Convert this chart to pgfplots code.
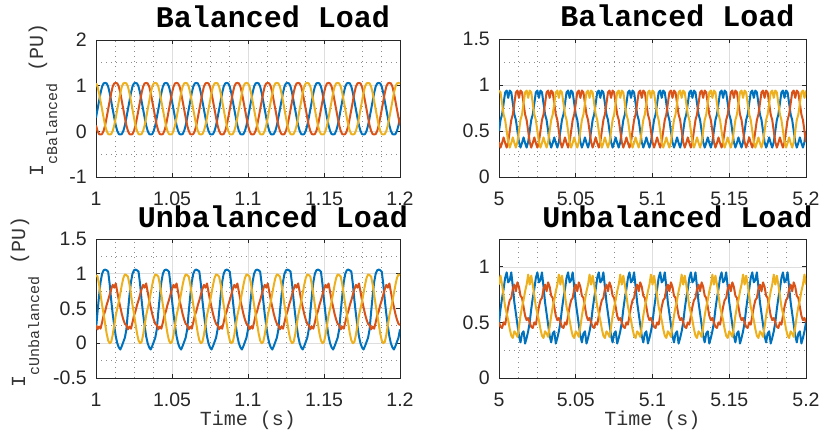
\documentclass[border=0pt]{standalone}
\usepackage{fontspec}
\setmainfont{Liberation Sans}
\setmonofont{Liberation Mono}
\usepackage{pgfplots}
\usepackage{pgfplotstable}
\pgfplotsset{compat=1.18}
\definecolor{mblue}{RGB}{0,114,189}
\definecolor{mred}{RGB}{217,83,25}
\definecolor{myellow}{RGB}{237,177,32}

% balanced load, t = 1 ... 1.2
\pgfplotstableread{
t b r y
1.000 0.30 0.13 1.05
1.001 0.48 0.01 0.98
1.002 0.66 -0.06 0.84
1.003 0.84 -0.07 0.66
1.004 0.98 -0.06 0.48
1.005 1.05 0.01 0.30
1.006 1.06 0.13 0.13
1.007 1.05 0.30 0.01
1.008 0.98 0.48 -0.06
1.009 0.84 0.66 -0.07
1.010 0.66 0.84 -0.06
1.011 0.48 0.98 0.01
1.012 0.30 1.05 0.13
1.013 0.13 1.06 0.30
1.014 0.01 1.05 0.48
1.015 -0.06 0.98 0.66
1.016 -0.07 0.84 0.84
1.017 -0.06 0.66 0.98
1.018 0.01 0.48 1.05
1.019 0.13 0.30 1.06
1.020 0.30 0.13 1.05
1.021 0.48 0.01 0.98
1.022 0.66 -0.06 0.84
1.023 0.84 -0.07 0.66
1.024 0.98 -0.06 0.48
1.025 1.05 0.01 0.30
1.026 1.06 0.13 0.13
1.027 1.05 0.30 0.01
1.028 0.98 0.48 -0.06
1.029 0.84 0.66 -0.07
1.030 0.66 0.84 -0.06
1.031 0.48 0.98 0.01
1.032 0.30 1.05 0.13
1.033 0.13 1.06 0.30
1.034 0.01 1.05 0.48
1.035 -0.06 0.98 0.66
1.036 -0.07 0.84 0.84
1.037 -0.06 0.66 0.98
1.038 0.01 0.48 1.05
1.039 0.13 0.30 1.06
1.040 0.30 0.13 1.05
1.041 0.48 0.01 0.98
1.042 0.66 -0.06 0.84
1.043 0.84 -0.07 0.66
1.044 0.98 -0.06 0.48
1.045 1.05 0.01 0.30
1.046 1.06 0.13 0.13
1.047 1.05 0.30 0.01
1.048 0.98 0.48 -0.06
1.049 0.84 0.66 -0.07
1.050 0.66 0.84 -0.06
1.051 0.48 0.98 0.01
1.052 0.30 1.05 0.13
1.053 0.13 1.06 0.30
1.054 0.01 1.05 0.48
1.055 -0.06 0.98 0.66
1.056 -0.07 0.84 0.84
1.057 -0.06 0.66 0.98
1.058 0.01 0.48 1.05
1.059 0.13 0.30 1.06
1.060 0.30 0.13 1.05
1.061 0.48 0.01 0.98
1.062 0.66 -0.06 0.84
1.063 0.84 -0.07 0.66
1.064 0.98 -0.06 0.48
1.065 1.05 0.01 0.30
1.066 1.06 0.13 0.13
1.067 1.05 0.30 0.01
1.068 0.98 0.48 -0.06
1.069 0.84 0.66 -0.07
1.070 0.66 0.84 -0.06
1.071 0.48 0.98 0.01
1.072 0.30 1.05 0.13
1.073 0.13 1.06 0.30
1.074 0.01 1.05 0.48
1.075 -0.06 0.98 0.66
1.076 -0.07 0.84 0.84
1.077 -0.06 0.66 0.98
1.078 0.01 0.48 1.05
1.079 0.13 0.30 1.06
1.080 0.30 0.13 1.05
1.081 0.48 0.01 0.98
1.082 0.66 -0.06 0.84
1.083 0.84 -0.07 0.66
1.084 0.98 -0.06 0.48
1.085 1.05 0.01 0.30
1.086 1.06 0.13 0.13
1.087 1.05 0.30 0.01
1.088 0.98 0.48 -0.06
1.089 0.84 0.66 -0.07
1.090 0.66 0.84 -0.06
1.091 0.48 0.98 0.01
1.092 0.30 1.05 0.13
1.093 0.13 1.06 0.30
1.094 0.01 1.05 0.48
1.095 -0.06 0.98 0.66
1.096 -0.07 0.84 0.84
1.097 -0.06 0.66 0.98
1.098 0.01 0.48 1.05
1.099 0.13 0.30 1.06
1.100 0.30 0.13 1.05
1.101 0.48 0.01 0.98
1.102 0.66 -0.06 0.84
1.103 0.84 -0.07 0.66
1.104 0.98 -0.06 0.48
1.105 1.05 0.01 0.30
1.106 1.06 0.13 0.13
1.107 1.05 0.30 0.01
1.108 0.98 0.48 -0.06
1.109 0.84 0.66 -0.07
1.110 0.66 0.84 -0.06
1.111 0.48 0.98 0.01
1.112 0.30 1.05 0.13
1.113 0.13 1.06 0.30
1.114 0.01 1.05 0.48
1.115 -0.06 0.98 0.66
1.116 -0.07 0.84 0.84
1.117 -0.06 0.66 0.98
1.118 0.01 0.48 1.05
1.119 0.13 0.30 1.06
1.120 0.30 0.13 1.05
1.121 0.48 0.01 0.98
1.122 0.66 -0.06 0.84
1.123 0.84 -0.07 0.66
1.124 0.98 -0.06 0.48
1.125 1.05 0.01 0.30
1.126 1.06 0.13 0.13
1.127 1.05 0.30 0.01
1.128 0.98 0.48 -0.06
1.129 0.84 0.66 -0.07
1.130 0.66 0.84 -0.06
1.131 0.48 0.98 0.01
1.132 0.30 1.05 0.13
1.133 0.13 1.06 0.30
1.134 0.01 1.05 0.48
1.135 -0.06 0.98 0.66
1.136 -0.07 0.84 0.84
1.137 -0.06 0.66 0.98
1.138 0.01 0.48 1.05
1.139 0.13 0.30 1.06
1.140 0.30 0.13 1.05
1.141 0.48 0.01 0.98
1.142 0.66 -0.06 0.84
1.143 0.84 -0.07 0.66
1.144 0.98 -0.06 0.48
1.145 1.05 0.01 0.30
1.146 1.06 0.13 0.13
1.147 1.05 0.30 0.01
1.148 0.98 0.48 -0.06
1.149 0.84 0.66 -0.07
1.150 0.66 0.84 -0.06
1.151 0.48 0.98 0.01
1.152 0.30 1.05 0.13
1.153 0.13 1.06 0.30
1.154 0.01 1.05 0.48
1.155 -0.06 0.98 0.66
1.156 -0.07 0.84 0.84
1.157 -0.06 0.66 0.98
1.158 0.01 0.48 1.05
1.159 0.13 0.30 1.06
1.160 0.30 0.13 1.05
1.161 0.48 0.01 0.98
1.162 0.66 -0.06 0.84
1.163 0.84 -0.07 0.66
1.164 0.98 -0.06 0.48
1.165 1.05 0.01 0.30
1.166 1.06 0.13 0.13
1.167 1.05 0.30 0.01
1.168 0.98 0.48 -0.06
1.169 0.84 0.66 -0.07
1.170 0.66 0.84 -0.06
1.171 0.48 0.98 0.01
1.172 0.30 1.05 0.13
1.173 0.13 1.06 0.30
1.174 0.01 1.05 0.48
1.175 -0.06 0.98 0.66
1.176 -0.07 0.84 0.84
1.177 -0.06 0.66 0.98
1.178 0.01 0.48 1.05
1.179 0.13 0.30 1.06
1.180 0.30 0.13 1.05
1.181 0.48 0.01 0.98
1.182 0.66 -0.06 0.84
1.183 0.84 -0.07 0.66
1.184 0.98 -0.06 0.48
1.185 1.05 0.01 0.30
1.186 1.06 0.13 0.13
1.187 1.05 0.30 0.01
1.188 0.98 0.48 -0.06
1.189 0.84 0.66 -0.07
1.190 0.66 0.84 -0.06
1.191 0.48 0.98 0.01
1.192 0.30 1.05 0.13
1.193 0.13 1.06 0.30
1.194 0.01 1.05 0.48
1.195 -0.06 0.98 0.66
1.196 -0.07 0.84 0.84
1.197 -0.06 0.66 0.98
1.198 0.01 0.48 1.05
1.199 0.13 0.30 1.06
1.200 0.30 0.13 1.05
}\balA

% balanced load, t = 5 ... 5.2
\pgfplotstableread{
t b r y
5.000 0.50 0.38 0.94
5.001 0.62 0.32 0.92
5.002 0.68 0.37 0.80
5.003 0.80 0.43 0.68
5.004 0.92 0.37 0.62
5.005 0.94 0.32 0.50
5.006 0.86 0.38 0.38
5.007 0.94 0.50 0.32
5.008 0.92 0.62 0.37
5.009 0.80 0.68 0.43
5.010 0.68 0.80 0.37
5.011 0.62 0.92 0.32
5.012 0.50 0.94 0.38
5.013 0.38 0.86 0.50
5.014 0.32 0.94 0.62
5.015 0.37 0.92 0.68
5.016 0.43 0.80 0.80
5.017 0.37 0.68 0.92
5.018 0.32 0.62 0.94
5.019 0.38 0.50 0.86
5.020 0.50 0.38 0.94
5.021 0.62 0.32 0.92
5.022 0.68 0.37 0.80
5.023 0.80 0.43 0.68
5.024 0.92 0.37 0.62
5.025 0.94 0.32 0.50
5.026 0.86 0.38 0.38
5.027 0.94 0.50 0.32
5.028 0.92 0.62 0.37
5.029 0.80 0.68 0.43
5.030 0.68 0.80 0.37
5.031 0.62 0.92 0.32
5.032 0.50 0.94 0.38
5.033 0.38 0.86 0.50
5.034 0.32 0.94 0.62
5.035 0.37 0.92 0.68
5.036 0.43 0.80 0.80
5.037 0.37 0.68 0.92
5.038 0.32 0.62 0.94
5.039 0.38 0.50 0.86
5.040 0.50 0.38 0.94
5.041 0.62 0.32 0.92
5.042 0.68 0.37 0.80
5.043 0.80 0.43 0.68
5.044 0.92 0.37 0.62
5.045 0.94 0.32 0.50
5.046 0.86 0.38 0.38
5.047 0.94 0.50 0.32
5.048 0.92 0.62 0.37
5.049 0.80 0.68 0.43
5.050 0.68 0.80 0.37
5.051 0.62 0.92 0.32
5.052 0.50 0.94 0.38
5.053 0.38 0.86 0.50
5.054 0.32 0.94 0.62
5.055 0.37 0.92 0.68
5.056 0.43 0.80 0.80
5.057 0.37 0.68 0.92
5.058 0.32 0.62 0.94
5.059 0.38 0.50 0.86
5.060 0.50 0.38 0.94
5.061 0.62 0.32 0.92
5.062 0.68 0.37 0.80
5.063 0.80 0.43 0.68
5.064 0.92 0.37 0.62
5.065 0.94 0.32 0.50
5.066 0.86 0.38 0.38
5.067 0.94 0.50 0.32
5.068 0.92 0.62 0.37
5.069 0.80 0.68 0.43
5.070 0.68 0.80 0.37
5.071 0.62 0.92 0.32
5.072 0.50 0.94 0.38
5.073 0.38 0.86 0.50
5.074 0.32 0.94 0.62
5.075 0.37 0.92 0.68
5.076 0.43 0.80 0.80
5.077 0.37 0.68 0.92
5.078 0.32 0.62 0.94
5.079 0.38 0.50 0.86
5.080 0.50 0.38 0.94
5.081 0.62 0.32 0.92
5.082 0.68 0.37 0.80
5.083 0.80 0.43 0.68
5.084 0.92 0.37 0.62
5.085 0.94 0.32 0.50
5.086 0.86 0.38 0.38
5.087 0.94 0.50 0.32
5.088 0.92 0.62 0.37
5.089 0.80 0.68 0.43
5.090 0.68 0.80 0.37
5.091 0.62 0.92 0.32
5.092 0.50 0.94 0.38
5.093 0.38 0.86 0.50
5.094 0.32 0.94 0.62
5.095 0.37 0.92 0.68
5.096 0.43 0.80 0.80
5.097 0.37 0.68 0.92
5.098 0.32 0.62 0.94
5.099 0.38 0.50 0.86
5.100 0.50 0.38 0.94
5.101 0.62 0.32 0.92
5.102 0.68 0.37 0.80
5.103 0.80 0.43 0.68
5.104 0.92 0.37 0.62
5.105 0.94 0.32 0.50
5.106 0.86 0.38 0.38
5.107 0.94 0.50 0.32
5.108 0.92 0.62 0.37
5.109 0.80 0.68 0.43
5.110 0.68 0.80 0.37
5.111 0.62 0.92 0.32
5.112 0.50 0.94 0.38
5.113 0.38 0.86 0.50
5.114 0.32 0.94 0.62
5.115 0.37 0.92 0.68
5.116 0.43 0.80 0.80
5.117 0.37 0.68 0.92
5.118 0.32 0.62 0.94
5.119 0.38 0.50 0.86
5.120 0.50 0.38 0.94
5.121 0.62 0.32 0.92
5.122 0.68 0.37 0.80
5.123 0.80 0.43 0.68
5.124 0.92 0.37 0.62
5.125 0.94 0.32 0.50
5.126 0.86 0.38 0.38
5.127 0.94 0.50 0.32
5.128 0.92 0.62 0.37
5.129 0.80 0.68 0.43
5.130 0.68 0.80 0.37
5.131 0.62 0.92 0.32
5.132 0.50 0.94 0.38
5.133 0.38 0.86 0.50
5.134 0.32 0.94 0.62
5.135 0.37 0.92 0.68
5.136 0.43 0.80 0.80
5.137 0.37 0.68 0.92
5.138 0.32 0.62 0.94
5.139 0.38 0.50 0.86
5.140 0.50 0.38 0.94
5.141 0.62 0.32 0.92
5.142 0.68 0.37 0.80
5.143 0.80 0.43 0.68
5.144 0.92 0.37 0.62
5.145 0.94 0.32 0.50
5.146 0.86 0.38 0.38
5.147 0.94 0.50 0.32
5.148 0.92 0.62 0.37
5.149 0.80 0.68 0.43
5.150 0.68 0.80 0.37
5.151 0.62 0.92 0.32
5.152 0.50 0.94 0.38
5.153 0.38 0.86 0.50
5.154 0.32 0.94 0.62
5.155 0.37 0.92 0.68
5.156 0.43 0.80 0.80
5.157 0.37 0.68 0.92
5.158 0.32 0.62 0.94
5.159 0.38 0.50 0.86
5.160 0.50 0.38 0.94
5.161 0.62 0.32 0.92
5.162 0.68 0.37 0.80
5.163 0.80 0.43 0.68
5.164 0.92 0.37 0.62
5.165 0.94 0.32 0.50
5.166 0.86 0.38 0.38
5.167 0.94 0.50 0.32
5.168 0.92 0.62 0.37
5.169 0.80 0.68 0.43
5.170 0.68 0.80 0.37
5.171 0.62 0.92 0.32
5.172 0.50 0.94 0.38
5.173 0.38 0.86 0.50
5.174 0.32 0.94 0.62
5.175 0.37 0.92 0.68
5.176 0.43 0.80 0.80
5.177 0.37 0.68 0.92
5.178 0.32 0.62 0.94
5.179 0.38 0.50 0.86
5.180 0.50 0.38 0.94
5.181 0.62 0.32 0.92
5.182 0.68 0.37 0.80
5.183 0.80 0.43 0.68
5.184 0.92 0.37 0.62
5.185 0.94 0.32 0.50
5.186 0.86 0.38 0.38
5.187 0.94 0.50 0.32
5.188 0.92 0.62 0.37
5.189 0.80 0.68 0.43
5.190 0.68 0.80 0.37
5.191 0.62 0.92 0.32
5.192 0.50 0.94 0.38
5.193 0.38 0.86 0.50
5.194 0.32 0.94 0.62
5.195 0.37 0.92 0.68
5.196 0.43 0.80 0.80
5.197 0.37 0.68 0.92
5.198 0.32 0.62 0.94
5.199 0.38 0.50 0.86
5.200 0.50 0.38 0.94
}\balB

% unbalanced load, t = 1 ... 1.2
\pgfplotstableread{
t b r y
1.000 0.20 0.26 0.98
1.001 0.45 0.20 0.96
1.002 0.68 0.24 0.85
1.003 0.88 0.21 0.70
1.004 1.00 0.30 0.55
1.005 1.05 0.40 0.42
1.006 1.06 0.46 0.28
1.007 1.05 0.55 0.14
1.008 1.03 0.62 0.04
1.009 0.85 0.70 0.00
1.010 0.62 0.78 0.02
1.011 0.42 0.84 0.12
1.012 0.25 0.80 0.26
1.013 0.10 0.86 0.40
1.014 0.00 0.74 0.50
1.015 -0.06 0.62 0.60
1.016 -0.09 0.52 0.72
1.017 -0.04 0.42 0.84
1.018 0.02 0.34 0.94
1.019 0.08 0.28 0.99
1.020 0.20 0.26 0.98
1.021 0.45 0.20 0.96
1.022 0.68 0.24 0.85
1.023 0.88 0.21 0.70
1.024 1.00 0.30 0.55
1.025 1.05 0.40 0.42
1.026 1.06 0.46 0.28
1.027 1.05 0.55 0.14
1.028 1.03 0.62 0.04
1.029 0.85 0.70 0.00
1.030 0.62 0.78 0.02
1.031 0.42 0.84 0.12
1.032 0.25 0.80 0.26
1.033 0.10 0.86 0.40
1.034 0.00 0.74 0.50
1.035 -0.06 0.62 0.60
1.036 -0.09 0.52 0.72
1.037 -0.04 0.42 0.84
1.038 0.02 0.34 0.94
1.039 0.08 0.28 0.99
1.040 0.20 0.26 0.98
1.041 0.45 0.20 0.96
1.042 0.68 0.24 0.85
1.043 0.88 0.21 0.70
1.044 1.00 0.30 0.55
1.045 1.05 0.40 0.42
1.046 1.06 0.46 0.28
1.047 1.05 0.55 0.14
1.048 1.03 0.62 0.04
1.049 0.85 0.70 0.00
1.050 0.62 0.78 0.02
1.051 0.42 0.84 0.12
1.052 0.25 0.80 0.26
1.053 0.10 0.86 0.40
1.054 0.00 0.74 0.50
1.055 -0.06 0.62 0.60
1.056 -0.09 0.52 0.72
1.057 -0.04 0.42 0.84
1.058 0.02 0.34 0.94
1.059 0.08 0.28 0.99
1.060 0.20 0.26 0.98
1.061 0.45 0.20 0.96
1.062 0.68 0.24 0.85
1.063 0.88 0.21 0.70
1.064 1.00 0.30 0.55
1.065 1.05 0.40 0.42
1.066 1.06 0.46 0.28
1.067 1.05 0.55 0.14
1.068 1.03 0.62 0.04
1.069 0.85 0.70 0.00
1.070 0.62 0.78 0.02
1.071 0.42 0.84 0.12
1.072 0.25 0.80 0.26
1.073 0.10 0.86 0.40
1.074 0.00 0.74 0.50
1.075 -0.06 0.62 0.60
1.076 -0.09 0.52 0.72
1.077 -0.04 0.42 0.84
1.078 0.02 0.34 0.94
1.079 0.08 0.28 0.99
1.080 0.20 0.26 0.98
1.081 0.45 0.20 0.96
1.082 0.68 0.24 0.85
1.083 0.88 0.21 0.70
1.084 1.00 0.30 0.55
1.085 1.05 0.40 0.42
1.086 1.06 0.46 0.28
1.087 1.05 0.55 0.14
1.088 1.03 0.62 0.04
1.089 0.85 0.70 0.00
1.090 0.62 0.78 0.02
1.091 0.42 0.84 0.12
1.092 0.25 0.80 0.26
1.093 0.10 0.86 0.40
1.094 0.00 0.74 0.50
1.095 -0.06 0.62 0.60
1.096 -0.09 0.52 0.72
1.097 -0.04 0.42 0.84
1.098 0.02 0.34 0.94
1.099 0.08 0.28 0.99
1.100 0.20 0.26 0.98
1.101 0.45 0.20 0.96
1.102 0.68 0.24 0.85
1.103 0.88 0.21 0.70
1.104 1.00 0.30 0.55
1.105 1.05 0.40 0.42
1.106 1.06 0.46 0.28
1.107 1.05 0.55 0.14
1.108 1.03 0.62 0.04
1.109 0.85 0.70 0.00
1.110 0.62 0.78 0.02
1.111 0.42 0.84 0.12
1.112 0.25 0.80 0.26
1.113 0.10 0.86 0.40
1.114 0.00 0.74 0.50
1.115 -0.06 0.62 0.60
1.116 -0.09 0.52 0.72
1.117 -0.04 0.42 0.84
1.118 0.02 0.34 0.94
1.119 0.08 0.28 0.99
1.120 0.20 0.26 0.98
1.121 0.45 0.20 0.96
1.122 0.68 0.24 0.85
1.123 0.88 0.21 0.70
1.124 1.00 0.30 0.55
1.125 1.05 0.40 0.42
1.126 1.06 0.46 0.28
1.127 1.05 0.55 0.14
1.128 1.03 0.62 0.04
1.129 0.85 0.70 0.00
1.130 0.62 0.78 0.02
1.131 0.42 0.84 0.12
1.132 0.25 0.80 0.26
1.133 0.10 0.86 0.40
1.134 0.00 0.74 0.50
1.135 -0.06 0.62 0.60
1.136 -0.09 0.52 0.72
1.137 -0.04 0.42 0.84
1.138 0.02 0.34 0.94
1.139 0.08 0.28 0.99
1.140 0.20 0.26 0.98
1.141 0.45 0.20 0.96
1.142 0.68 0.24 0.85
1.143 0.88 0.21 0.70
1.144 1.00 0.30 0.55
1.145 1.05 0.40 0.42
1.146 1.06 0.46 0.28
1.147 1.05 0.55 0.14
1.148 1.03 0.62 0.04
1.149 0.85 0.70 0.00
1.150 0.62 0.78 0.02
1.151 0.42 0.84 0.12
1.152 0.25 0.80 0.26
1.153 0.10 0.86 0.40
1.154 0.00 0.74 0.50
1.155 -0.06 0.62 0.60
1.156 -0.09 0.52 0.72
1.157 -0.04 0.42 0.84
1.158 0.02 0.34 0.94
1.159 0.08 0.28 0.99
1.160 0.20 0.26 0.98
1.161 0.45 0.20 0.96
1.162 0.68 0.24 0.85
1.163 0.88 0.21 0.70
1.164 1.00 0.30 0.55
1.165 1.05 0.40 0.42
1.166 1.06 0.46 0.28
1.167 1.05 0.55 0.14
1.168 1.03 0.62 0.04
1.169 0.85 0.70 0.00
1.170 0.62 0.78 0.02
1.171 0.42 0.84 0.12
1.172 0.25 0.80 0.26
1.173 0.10 0.86 0.40
1.174 0.00 0.74 0.50
1.175 -0.06 0.62 0.60
1.176 -0.09 0.52 0.72
1.177 -0.04 0.42 0.84
1.178 0.02 0.34 0.94
1.179 0.08 0.28 0.99
1.180 0.20 0.26 0.98
1.181 0.45 0.20 0.96
1.182 0.68 0.24 0.85
1.183 0.88 0.21 0.70
1.184 1.00 0.30 0.55
1.185 1.05 0.40 0.42
1.186 1.06 0.46 0.28
1.187 1.05 0.55 0.14
1.188 1.03 0.62 0.04
1.189 0.85 0.70 0.00
1.190 0.62 0.78 0.02
1.191 0.42 0.84 0.12
1.192 0.25 0.80 0.26
1.193 0.10 0.86 0.40
1.194 0.00 0.74 0.50
1.195 -0.06 0.62 0.60
1.196 -0.09 0.52 0.72
1.197 -0.04 0.42 0.84
1.198 0.02 0.34 0.94
1.199 0.08 0.28 0.99
1.200 0.20 0.26 0.98
}\unbA

% unbalanced load, t = 5 ... 5.2
\pgfplotstableread{
t b r y
5.000 0.50 0.50 0.84
5.001 0.62 0.46 0.92
5.002 0.72 0.45 0.84
5.003 0.80 0.50 0.74
5.004 0.90 0.48 0.64
5.005 0.95 0.56 0.58
5.006 0.86 0.64 0.52
5.007 0.88 0.70 0.44
5.008 0.95 0.72 0.38
5.009 0.82 0.80 0.36
5.010 0.68 0.84 0.42
5.011 0.58 0.78 0.40
5.012 0.48 0.86 0.37
5.013 0.38 0.82 0.46
5.014 0.32 0.74 0.56
5.015 0.40 0.72 0.64
5.016 0.42 0.64 0.70
5.017 0.31 0.56 0.78
5.018 0.36 0.52 0.84
5.019 0.42 0.54 0.93
5.020 0.50 0.50 0.84
5.021 0.62 0.46 0.92
5.022 0.72 0.45 0.84
5.023 0.80 0.50 0.74
5.024 0.90 0.48 0.64
5.025 0.95 0.56 0.58
5.026 0.86 0.64 0.52
5.027 0.88 0.70 0.44
5.028 0.95 0.72 0.38
5.029 0.82 0.80 0.36
5.030 0.68 0.84 0.42
5.031 0.58 0.78 0.40
5.032 0.48 0.86 0.37
5.033 0.38 0.82 0.46
5.034 0.32 0.74 0.56
5.035 0.40 0.72 0.64
5.036 0.42 0.64 0.70
5.037 0.31 0.56 0.78
5.038 0.36 0.52 0.84
5.039 0.42 0.54 0.93
5.040 0.50 0.50 0.84
5.041 0.62 0.46 0.92
5.042 0.72 0.45 0.84
5.043 0.80 0.50 0.74
5.044 0.90 0.48 0.64
5.045 0.95 0.56 0.58
5.046 0.86 0.64 0.52
5.047 0.88 0.70 0.44
5.048 0.95 0.72 0.38
5.049 0.82 0.80 0.36
5.050 0.68 0.84 0.42
5.051 0.58 0.78 0.40
5.052 0.48 0.86 0.37
5.053 0.38 0.82 0.46
5.054 0.32 0.74 0.56
5.055 0.40 0.72 0.64
5.056 0.42 0.64 0.70
5.057 0.31 0.56 0.78
5.058 0.36 0.52 0.84
5.059 0.42 0.54 0.93
5.060 0.50 0.50 0.84
5.061 0.62 0.46 0.92
5.062 0.72 0.45 0.84
5.063 0.80 0.50 0.74
5.064 0.90 0.48 0.64
5.065 0.95 0.56 0.58
5.066 0.86 0.64 0.52
5.067 0.88 0.70 0.44
5.068 0.95 0.72 0.38
5.069 0.82 0.80 0.36
5.070 0.68 0.84 0.42
5.071 0.58 0.78 0.40
5.072 0.48 0.86 0.37
5.073 0.38 0.82 0.46
5.074 0.32 0.74 0.56
5.075 0.40 0.72 0.64
5.076 0.42 0.64 0.70
5.077 0.31 0.56 0.78
5.078 0.36 0.52 0.84
5.079 0.42 0.54 0.93
5.080 0.50 0.50 0.84
5.081 0.62 0.46 0.92
5.082 0.72 0.45 0.84
5.083 0.80 0.50 0.74
5.084 0.90 0.48 0.64
5.085 0.95 0.56 0.58
5.086 0.86 0.64 0.52
5.087 0.88 0.70 0.44
5.088 0.95 0.72 0.38
5.089 0.82 0.80 0.36
5.090 0.68 0.84 0.42
5.091 0.58 0.78 0.40
5.092 0.48 0.86 0.37
5.093 0.38 0.82 0.46
5.094 0.32 0.74 0.56
5.095 0.40 0.72 0.64
5.096 0.42 0.64 0.70
5.097 0.31 0.56 0.78
5.098 0.36 0.52 0.84
5.099 0.42 0.54 0.93
5.100 0.50 0.50 0.84
5.101 0.62 0.46 0.92
5.102 0.72 0.45 0.84
5.103 0.80 0.50 0.74
5.104 0.90 0.48 0.64
5.105 0.95 0.56 0.58
5.106 0.86 0.64 0.52
5.107 0.88 0.70 0.44
5.108 0.95 0.72 0.38
5.109 0.82 0.80 0.36
5.110 0.68 0.84 0.42
5.111 0.58 0.78 0.40
5.112 0.48 0.86 0.37
5.113 0.38 0.82 0.46
5.114 0.32 0.74 0.56
5.115 0.40 0.72 0.64
5.116 0.42 0.64 0.70
5.117 0.31 0.56 0.78
5.118 0.36 0.52 0.84
5.119 0.42 0.54 0.93
5.120 0.50 0.50 0.84
5.121 0.62 0.46 0.92
5.122 0.72 0.45 0.84
5.123 0.80 0.50 0.74
5.124 0.90 0.48 0.64
5.125 0.95 0.56 0.58
5.126 0.86 0.64 0.52
5.127 0.88 0.70 0.44
5.128 0.95 0.72 0.38
5.129 0.82 0.80 0.36
5.130 0.68 0.84 0.42
5.131 0.58 0.78 0.40
5.132 0.48 0.86 0.37
5.133 0.38 0.82 0.46
5.134 0.32 0.74 0.56
5.135 0.40 0.72 0.64
5.136 0.42 0.64 0.70
5.137 0.31 0.56 0.78
5.138 0.36 0.52 0.84
5.139 0.42 0.54 0.93
5.140 0.50 0.50 0.84
5.141 0.62 0.46 0.92
5.142 0.72 0.45 0.84
5.143 0.80 0.50 0.74
5.144 0.90 0.48 0.64
5.145 0.95 0.56 0.58
5.146 0.86 0.64 0.52
5.147 0.88 0.70 0.44
5.148 0.95 0.72 0.38
5.149 0.82 0.80 0.36
5.150 0.68 0.84 0.42
5.151 0.58 0.78 0.40
5.152 0.48 0.86 0.37
5.153 0.38 0.82 0.46
5.154 0.32 0.74 0.56
5.155 0.40 0.72 0.64
5.156 0.42 0.64 0.70
5.157 0.31 0.56 0.78
5.158 0.36 0.52 0.84
5.159 0.42 0.54 0.93
5.160 0.50 0.50 0.84
5.161 0.62 0.46 0.92
5.162 0.72 0.45 0.84
5.163 0.80 0.50 0.74
5.164 0.90 0.48 0.64
5.165 0.95 0.56 0.58
5.166 0.86 0.64 0.52
5.167 0.88 0.70 0.44
5.168 0.95 0.72 0.38
5.169 0.82 0.80 0.36
5.170 0.68 0.84 0.42
5.171 0.58 0.78 0.40
5.172 0.48 0.86 0.37
5.173 0.38 0.82 0.46
5.174 0.32 0.74 0.56
5.175 0.40 0.72 0.64
5.176 0.42 0.64 0.70
5.177 0.31 0.56 0.78
5.178 0.36 0.52 0.84
5.179 0.42 0.54 0.93
5.180 0.50 0.50 0.84
5.181 0.62 0.46 0.92
5.182 0.72 0.45 0.84
5.183 0.80 0.50 0.74
5.184 0.90 0.48 0.64
5.185 0.95 0.56 0.58
5.186 0.86 0.64 0.52
5.187 0.88 0.70 0.44
5.188 0.95 0.72 0.38
5.189 0.82 0.80 0.36
5.190 0.68 0.84 0.42
5.191 0.58 0.78 0.40
5.192 0.48 0.86 0.37
5.193 0.38 0.82 0.46
5.194 0.32 0.74 0.56
5.195 0.40 0.72 0.64
5.196 0.42 0.64 0.70
5.197 0.31 0.56 0.78
5.198 0.36 0.52 0.84
5.199 0.42 0.54 0.93
5.200 0.50 0.50 0.84
}\unbB

\newcommand{\lab}{\fontsize{20}{20}\selectfont\ttfamily}
\newcommand{\sub}[1]{\raisebox{-14pt}{\fontsize{15}{15}\selectfont #1}}

\pgfplotsset{
  matlab/.style={
    scale only axis, anchor=south west,
    grid=both, minor x tick num=3, minor y tick num=1,
    major grid style={line width=0.6pt, draw=black!13},
    minor grid style={line width=0.8pt, draw=black!45, dash pattern=on 0.8pt off 4.2pt},
    axis line style={line width=0.9pt, draw=black!85},
    tick style={line width=0.9pt, draw=black!85},
    major tick length=4pt, minor tick length=0pt, tick align=inside,
    ticklabel style={font=\fontsize{19.5}{20}\selectfont, text=black!85},
    /pgf/number format/assume math mode=true,
    yticklabel style={anchor=east, inner sep=0pt, xshift=-9pt},
    xticklabel style={anchor=north, inner sep=0pt, yshift=-15pt},
    title style={at={(axis description cs:0.5,1)}, anchor=base, xshift=25pt, yshift=6pt,
      font=\fontsize{30}{30}\selectfont\ttfamily\bfseries},
    every axis label/.append style={font=\lab, text=black!80},
    every axis plot/.append style={line width=2pt, line join=round, no markers},
  },
}

\begin{document}
\begin{tikzpicture}
\useasboundingbox (0pt,0pt) rectangle (822pt,432pt);

\begin{axis}[matlab, at={(96pt,255pt)}, width=304pt, height=137pt,
  xmin=1, xmax=1.2, ymin=-1, ymax=2,
  xtick={1,1.05,1.1,1.15,1.2}, ytick={-1,0,1,2},
  title={Balanced Load}]
\addplot[mblue] table[x=t, y=b] {\balA};
\addplot[mred] table[x=t, y=r] {\balA};
\addplot[myellow] table[x=t, y=y] {\balA};
\end{axis}

\begin{axis}[matlab, at={(499pt,255pt)}, width=307pt, height=138pt,
  xmin=5, xmax=5.2, ymin=0, ymax=1.5,
  xtick={5,5.05,5.1,5.15,5.2}, ytick={0,0.5,1,1.5},
  title={Balanced Load}]
\addplot[mblue] table[x=t, y=b] {\balB};
\addplot[mred] table[x=t, y=r] {\balB};
\addplot[myellow] table[x=t, y=y] {\balB};
\end{axis}

\begin{axis}[matlab, at={(96pt,54pt)}, width=304pt, height=139pt,
  xmin=1, xmax=1.2, ymin=-0.5, ymax=1.5,
  xtick={1,1.05,1.1,1.15,1.2}, ytick={-0.5,0,0.5,1,1.5},
  title={Unbalanced Load},
  xlabel={\lab Time (s)},
  xlabel style={at={(axis description cs:0.5,-0.345)}, anchor=base}]
\addplot[mblue] table[x=t, y=b] {\unbA};
\addplot[mred] table[x=t, y=r] {\unbA};
\addplot[myellow] table[x=t, y=y] {\unbA};
\end{axis}

\begin{axis}[matlab, at={(499pt,54pt)}, width=307pt, height=139pt,
  xmin=5, xmax=5.2, ymin=0, ymax=1.25,
  xtick={5,5.05,5.1,5.15,5.2}, ytick={0,0.5,1},
  title={Unbalanced Load},
  xlabel={\lab Time (s)},
  xlabel style={at={(axis description cs:0.5,-0.345)}, anchor=base}]
\addplot[mblue] table[x=t, y=b] {\unbB};
\addplot[mred] table[x=t, y=r] {\unbB};
\addplot[myellow] table[x=t, y=y] {\unbB};
\end{axis}

% y axis labels (vertical, reading upwards)
\node[rotate=90, anchor=base west, inner sep=0pt, font=\lab, text=black!80]
  at (43pt,255pt) {I\sub{cBalanced} (PU)};
\node[rotate=90, anchor=base west, inner sep=0pt, font=\lab, text=black!80]
  at (25pt,44pt) {I\sub{cUnbalanced} (PU)};
\end{tikzpicture}
\end{document}
